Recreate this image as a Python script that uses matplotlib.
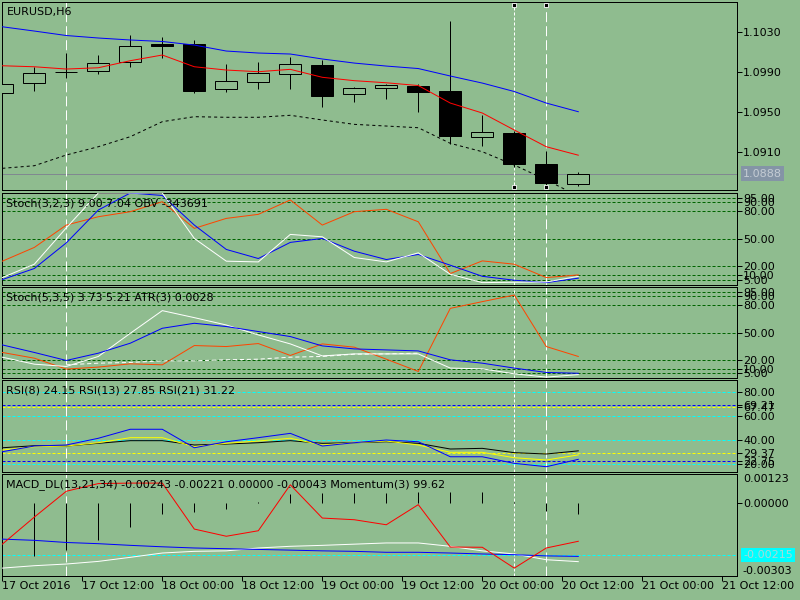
import numpy as np
import matplotlib
matplotlib.use("Agg")
import matplotlib.pyplot as plt
from matplotlib.transforms import blended_transform_factory

plt.rcParams["font.family"] = "DejaVu Sans"
plt.rcParams["font.size"] = 8
plt.rcParams["lines.scale_dashes"] = False

BG = "#8FBC8F"
PX = 0.72  # one screen pixel in points at dpi 100
LEVEL_GREEN = "#006400"

# ---- data: EURUSD H6 candles (index 0 = 17 Oct 2016 00:00) ----
bars = np.arange(19)
opens = [1.0969, 1.0979, 1.0990, 1.0991, 1.1000, 1.1018, 1.1018, 1.0973, 1.0980, 1.0988,
         1.0997, 1.0968, 1.0974, 1.0976, 1.0971, 1.0925, 1.0929, 1.0898, 1.0878]
highs = [1.0980, 1.0995, 1.1009, 1.1007, 1.1027, 1.1025, 1.1022, 1.0998, 1.1000, 1.1005,
         1.1002, 1.0975, 1.0978, 1.0978, 1.1041, 1.0947, 1.0931, 1.0911, 1.0890]
lows = [1.0966, 1.0971, 1.0984, 1.0988, 1.0995, 1.1004, 1.0969, 1.0970, 1.0973, 1.0973,
        1.0955, 1.0960, 1.0963, 1.0950, 1.0918, 1.0916, 1.0895, 1.0877, 1.0876]
closes = [1.0978, 1.0989, 1.0990, 1.0999, 1.1016, 1.1016, 1.0971, 1.0981, 1.0989, 1.0998,
          1.0966, 1.0974, 1.0977, 1.0970, 1.0926, 1.0930, 1.0898, 1.0879, 1.0888]
last_price = 1.0888

ma_blue = [1.10356, 1.10313, 1.10268, 1.10243, 1.10223, 1.10208, 1.10172, 1.10112, 1.10092, 1.10082,
           1.10032, 1.09991, 1.09961, 1.09936, 1.09861, 1.09790, 1.09705, 1.09589, 1.09502]
ma_red = [1.09964, 1.09954, 1.09931, 1.09944, 1.10015, 1.10072, 1.09954, 1.09921, 1.09904, 1.09928,
          1.09848, 1.09814, 1.09793, 1.09765, 1.09589, 1.09489, 1.09318, 1.09150, 1.09065]
ma_dotted = [1.08933, 1.08959, 1.09067, 1.09150, 1.09251, 1.09402, 1.09452, 1.09446, 1.09446, 1.09466,
             1.09419, 1.09375, 1.09358, 1.09341, 1.09184, 1.09100, 1.08966, 1.08816, 1.08654]
price_ticks = [1.1030, 1.0990, 1.0950, 1.0910]

# Stoch(3,2,3) + OBV
st1_white = [7.7, 22.3, 62.0, 100, 100, 100, 50.4, 25.6, 24.8, 54.8,
             52.2, 29.6, 24.8, 34.7, 11.3, 2.2, 2.6, 2.9, 9.00]
st1_blue = [5.5, 17.6, 45.6, 81.4, 100, 97.3, 65.0, 38.4, 28.5, 46.1,
            50.4, 36.5, 27.4, 32.9, 21.2, 9.1, 4.8, 2.2, 7.04]
st1_orange = [25.6, 40.6, 65.0, 74.1, 79.6, 90.5, 61.4, 72.3, 76.7, 92.4,
              65.0, 79.6, 82.2, 68.6, 12.1, 25.9, 22.3, 7.7, 10.6]
stoch_levels = [95, 90, 80, 50, 20, 10, 5]

# Stoch(5,3,5) + ATR
st2_white = [22.9, 15.2, 12.7, 23.7, 49.2, 74.1, 66.4, 58.3, 47.4, 37.5,
             24.3, 26.5, 26.5, 26.5, 10.9, 10.1, 4.6, 1.0, 3.73]
st2_blue = [36.4, 28.1, 19.3, 27.3, 38.3, 54.7, 60.2, 56.6, 51.1, 45.6,
            35.3, 32.0, 30.9, 29.8, 20.0, 16.3, 10.9, 6.1, 5.21]
st2_orange = [28.1, 21.8, 9.8, 12.0, 15.6, 14.5, 35.7, 34.6, 37.9, 24.8,
              37.5, 33.9, 20.7, 7.2, 76.6, 84.0, 91.2, 34.6, 23.7]
st2_dashed = [np.nan, np.nan, 14.5, 16.3, 17.1, 18.9, 18.9, 20.0, 20.7, 22.9,
              23.7, 26.2, 26.5, 27.3, np.nan, np.nan, np.nan, np.nan, np.nan]

# RSI(8), RSI(13), RSI(21)
rsi8 = [30.5, 35.25, 36.1, 41.7, 49.2, 49.2, 33.8, 38.8, 42.2, 45.8,
        35.25, 38.0, 40.25, 38.8, 26.3, 26.3, 20.8, 18.0, 24.15]
rsi13 = [31.9, 34.7, 35.25, 38.0, 42.2, 42.2, 34.7, 37.5, 39.4, 41.7,
         36.1, 38.0, 39.4, 36.1, 30.0, 30.0, 25.5, 23.6, 27.85]
rsi21 = [33.8, 35.5, 35.25, 37.5, 39.7, 39.7, 36.1, 36.9, 38.0, 39.7,
         37.5, 38.0, 38.8, 37.5, 32.75, 33.3, 29.7, 28.6, 31.22]
rsi_cyan_levels = [80, 60, 40, 20]
rsi_blue_levels = [69.21, 22.75]
rsi_yellow_levels = [67.47, 29.37]

# MACD_DL(13,21,34) + Momentum(3)
macd_hist = [-0.0024, -0.00221, -0.00193, -0.00152, -0.00099, -0.00043, -0.00037, -0.00022, 0.00008, 0.00041,
             0.00044, 0.00044, 0.00044, 0.00047, 0.00048, 0.00047, 0.00005, -0.00033, -0.00043]
macd_red = [-0.00170, -0.00057, 0.00051, 0.00083, 0.00085, 0.00085, -0.00107, -0.00137, -0.00114, 0.00078,
            -0.00061, -0.00068, -0.00089, -0.00005, -0.00182, -0.00183, -0.00270, -0.00186, -0.00158]
macd_blue = [-0.00149, -0.00154, -0.00163, -0.00168, -0.00175, -0.00181, -0.00186, -0.00189, -0.00192, -0.00195,
             -0.00198, -0.00200, -0.00204, -0.00204, -0.00207, -0.00211, -0.00214, -0.00219, -0.00221]
macd_white = [-0.00270, -0.00260, -0.00253, -0.00242, -0.00225, -0.00207, -0.00200, -0.00198, -0.00186, -0.00179,
              -0.00175, -0.00170, -0.00165, -0.00165, -0.00179, -0.00198, -0.00211, -0.00235, -0.00243]
macd_max, macd_min, macd_hline = 0.00123, -0.00303, -0.00215

date_labels = ["17 Oct 2016", "17 Oct 12:00", "18 Oct 00:00", "18 Oct 12:00", "19 Oct 00:00",
               "19 Oct 12:00", "20 Oct 00:00", "20 Oct 12:00", "21 Oct 00:00", "21 Oct 12:00"]
vline_bars = [2, 16, 17]
vline_dashes = [(7.2, 2.9), (2.2, 1.4), (7.2, 2.9)]

fig = plt.figure(figsize=(8, 6), dpi=100, facecolor=BG)


def panel(top, bottom, title):
    ax = fig.add_axes([2 / 800, 1 - bottom / 600, 735 / 800, (bottom - top) / 600])
    ax.set_facecolor(BG)
    for s in ax.spines.values():
        s.set_linewidth(PX)
        s.set_color("black")
    ax.set_xlim(-0.01, 22.96)
    ax.yaxis.tick_right()
    ax.tick_params(axis="y", direction="out", length=5 * PX, width=PX, pad=PX, labelsize=8)
    ax.tick_params(axis="x", bottom=False, labelbottom=False)
    for b, d in zip(vline_bars, vline_dashes):
        ax.axvline(b, color="white", lw=PX, dashes=d, zorder=1)
    ax.annotate(title, xy=(0, 1), xycoords="axes fraction", xytext=(4.5, -10.5),
                textcoords="offset pixels", va="center", ha="left", fontsize=8, zorder=10)
    return ax


def levels(ax, values, color):
    for v in values:
        ax.axhline(v, color=color, lw=PX, dashes=(2.2, 1.4), zorder=0.5)


right = 1 + 6 / 735

# ---- main price panel ----
ax = panel(2, 190, "EURUSD,H6")
ax.set_ylim(1.08715, 1.10605)
o, c = np.array(opens), np.array(closes)
up = c >= o
ax.axhline(last_price, color="#808890", lw=PX, zorder=0.8)
ax.vlines(bars, lows, highs, color="black", lw=PX, zorder=2)
ax.bar(bars, np.abs(c - o), bottom=np.minimum(o, c), width=0.68,
       color=np.where(up, BG, "black"), edgecolor="black", lw=PX, zorder=3)
ax.plot(bars, ma_blue, color="blue", lw=PX, zorder=4)
ax.plot(bars, ma_red, color="red", lw=PX, zorder=4)
ax.plot(bars, ma_dotted, color="black", lw=PX, dashes=(2.2, 2.2), zorder=4)
ax.set_yticks(price_ticks, [f"{p:.4f}" for p in price_ticks])
bt = blended_transform_factory(ax.transAxes, ax.transData)
ax.text(right, last_price, f"{last_price:.4f}", transform=bt, va="center", ha="left",
        color="#c4ccd4", bbox=dict(boxstyle="square,pad=0.2", fc="#8494a6", ec="none"))
sel = blended_transform_factory(ax.transData, ax.transAxes)
for b in vline_bars[1:]:
    ax.plot([b, b], [0.982, 0.014], ls="none", marker="s", ms=3, mfc="black", mec="white",
            mew=0.6, transform=sel, zorder=6, clip_on=False)

# ---- Stoch(3,2,3) panel ----
ax1 = panel(193, 285, "Stoch(3,2,3) 9.00 7.04 OBV -343691")
ax1.set_ylim(-0.4, 100)
levels(ax1, stoch_levels, LEVEL_GREEN)
ax1.plot(bars, st1_orange, color="#FF4500", lw=PX, zorder=3)
ax1.plot(bars, st1_blue, color="blue", lw=PX, zorder=3)
ax1.plot(bars, st1_white, color="white", lw=PX, zorder=3)
ax1.set_yticks(stoch_levels, [f"{v:.2f}" for v in stoch_levels])

# ---- Stoch(5,3,5) panel ----
ax2 = panel(287, 378, "Stoch(5,3,5) 3.73 5.21 ATR(3) 0.0028")
ax2.set_ylim(0, 100.1)
levels(ax2, stoch_levels, LEVEL_GREEN)
ax2.plot(bars, st2_dashed, color="white", lw=PX, dashes=(3, 2), zorder=3)
ax2.plot(bars, st2_orange, color="#FF4500", lw=PX, zorder=3)
ax2.plot(bars, st2_white, color="white", lw=PX, zorder=3)
ax2.plot(bars, st2_blue, color="blue", lw=PX, zorder=3)
ax2.set_yticks(stoch_levels, [f"{v:.2f}" for v in stoch_levels])

# ---- RSI panel ----
ax3 = panel(380, 472, "RSI(8) 24.15 RSI(13) 27.85 RSI(21) 31.22")
ax3.set_ylim(13.6, 90.25)
levels(ax3, rsi_cyan_levels, "cyan")
levels(ax3, rsi_blue_levels, "blue")
levels(ax3, rsi_yellow_levels, "yellow")
ax3.plot(bars, rsi21, color="black", lw=PX, zorder=3)
ax3.plot(bars, rsi13, color="yellow", lw=PX, zorder=3)
ax3.plot(bars, rsi8, color="blue", lw=PX, zorder=3)
rsi_ticks = rsi_cyan_levels + rsi_blue_levels + rsi_yellow_levels
ax3.set_yticks(rsi_ticks, [f"{v:.2f}" for v in rsi_ticks])

# ---- MACD panel ----
ax4 = panel(474, 576, "MACD_DL(13,21,34) -0.00243 -0.00221 0.00000 -0.00043 Momentum(3) 99.62")
ax4.set_ylim(macd_min, macd_max)
ax4.axhline(macd_hline, color="cyan", lw=PX, dashes=(2.2, 1.4), zorder=0.5)
ax4.vlines(bars, 0, macd_hist, color="black", lw=PX, zorder=2)
ax4.plot(bars, macd_white, color="white", lw=PX, zorder=3)
ax4.plot(bars, macd_blue, color="blue", lw=PX, zorder=3)
ax4.plot(bars, macd_red, color="red", lw=PX, zorder=3)
ax4.set_yticks([0], ["0.00000"])
bt4 = blended_transform_factory(ax4.transAxes, ax4.transData)
ax4.text(right, macd_max, f"{macd_max:.5f}", transform=bt4, va="top", ha="left")
ax4.text(right - 1 / 735, macd_min, f"{macd_min:.5f}", transform=bt4, va="bottom", ha="left")
ax4.text(right, macd_hline, f"{macd_hline:.5f}", transform=bt4, va="center", ha="left",
         color="#a8d8d8", bbox=dict(boxstyle="square,pad=0.2", fc="cyan", ec="none"), zorder=5)
ax4.set_xticks(np.arange(len(date_labels)) * 2.5 - 0.01, date_labels)
ax4.tick_params(axis="x", bottom=True, labelbottom=True, direction="out",
                length=5 * PX, width=PX, pad=0, labelsize=8)
for lab in ax4.get_xticklabels():
    lab.set_ha("left")

fig.savefig("out.png", dpi=100, facecolor=BG)
